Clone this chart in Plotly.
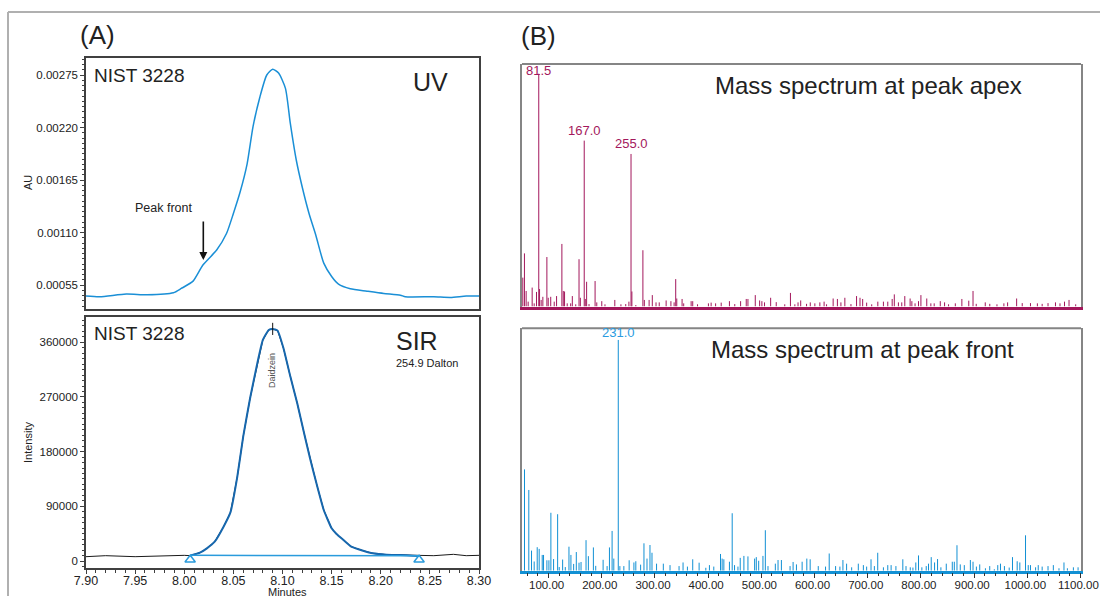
import plotly.graph_objects as go

# ---------------- data ----------------
uv_time = [7.900, 7.914, 7.941, 7.962, 7.989, 7.997, 8.009, 8.019, 8.033, 8.043, 8.050, 8.057,
           8.064, 8.070, 8.077, 8.084, 8.090, 8.096, 8.103, 8.108, 8.114, 8.120, 8.127, 8.134,
           8.142, 8.150, 8.157, 8.169, 8.186, 8.203, 8.220, 8.225, 8.254, 8.271, 8.287, 8.300]
uv_au = [0.000435, 0.000428, 0.000456, 0.000449, 0.000470, 0.000515, 0.000592, 0.000760, 0.000917,
         0.00109, 0.00130, 0.00153, 0.00182, 0.00221, 0.00252, 0.00275, 0.00281, 0.00277, 0.00261,
         0.00224, 0.00186, 0.00158, 0.00130, 0.00107, 0.00078, 0.00064, 0.00056, 0.000512, 0.000487,
         0.000463, 0.000445, 0.000428, 0.000428, 0.000421, 0.000435, 0.000435]

sir_time = [7.900, 7.920, 7.950, 7.970, 8.000, 8.006, 8.016, 8.023, 8.031, 8.040, 8.047, 8.054,
            8.060, 8.067, 8.074, 8.080, 8.086, 8.090, 8.095, 8.101, 8.108, 8.115, 8.122, 8.128,
            8.135, 8.142, 8.150, 8.155, 8.162, 8.170, 8.182, 8.192, 8.206, 8.220, 8.233, 8.239,
            8.254, 8.274, 8.287, 8.300]
sir_intensity = [7130, 8780, 7130, 8230, 9330, 8780, 13720, 20850, 31830, 56500, 80000, 138800,
                 204700, 267800, 322700, 363800, 380300, 381950, 379200, 350100, 303500, 259600,
                 210200, 169000, 125100, 84000, 53800, 44450, 34570, 23600, 17010, 12620, 10430,
                 9880, 8780, 8230, 8780, 10980, 8780, 9330]

peak_start, peak_end = 8.006, 8.239
baseline_level = [9300, 8800]
marker_level = 2000
apex_time = 8.09
apex_tick = [372000, 392000]

apex_mz = [51.5, 54.6, 57.8, 61.6, 69.1, 72.9, 77.3, 81.5, 83.0, 86.0, 89.2, 96.8, 99.3, 104.0,
           110.6, 115.0, 125.0, 127.6, 130.0, 135.0, 141.5, 144.6, 151.0, 157.2, 159.7, 167.0,
           169.0, 171.5, 176.0, 187.4, 190.6, 200.0, 206.0, 224.5, 236.0, 245.0, 251.0, 255.0,
           256.6, 264.0, 277.3, 280.0, 289.0, 295.0, 302.0, 308.0, 321.0, 330.0, 336.0, 339.0,
           341.0, 351.0, 354.0, 368.0, 371.0, 380.0, 400.5, 405.6, 414.0, 424.5, 440.0, 450.0,
           461.0, 471.6, 474.8, 488.6, 496.8, 501.0, 506.0, 517.5, 528.0, 544.0, 554.7, 563.0,
           569.0, 574.0, 585.0, 592.0, 600.6, 610.0, 618.0, 622.6, 635.0, 643.0, 649.6, 657.0,
           668.5, 679.0, 685.5, 690.5, 698.0, 707.5, 719.0, 729.5, 737.7, 746.0, 750.0, 757.7,
           764.0, 769.7, 779.7, 783.0, 789.0, 795.5, 800.0, 811.0, 818.7, 825.0, 836.4, 844.5,
           852.0, 864.7, 877.0, 890.0, 898.0, 904.0, 921.0, 929.5, 943.0, 956.0, 963.0, 980.0,
           990.5, 1006.0, 1019.0, 1028.0, 1039.0, 1053.0, 1061.5, 1070.0, 1078.5, 1091.0]
apex_int = [11.9, 21.9, 6.4, 2.0, 7.8, 1.3, 6.0, 96.0, 7.2, 2.7, 4.0, 20.4, 3.6, 4.0,
            2.0, 4.3, 25.8, 6.4, 6.2, 1.3, 1.3, 4.3, 0.9, 19.5, 3.6, 68.4,
            3.1, 10.2, 1.0, 10.5, 1.7, 2.2, 0.9, 2.7, 0.9, 1.0, 2.0, 62.9,
            6.2, 0.6, 23.2, 2.7, 2.7, 4.7, 1.7, 1.7, 2.5, 2.2, 1.7, 11.3,
            3.3, 3.1, 1.3, 2.2, 2.2, 0.9, 1.3, 1.6, 1.3, 1.6, 2.2, 1.0,
            2.2, 3.1, 3.1, 4.7, 2.5, 2.2, 1.7, 3.6, 1.8, 0.9, 5.6, 0.9,
            1.7, 2.5, 1.1, 1.7, 1.3, 1.7, 2.0, 0.9, 3.3, 3.1, 1.7, 3.6,
            1.0, 4.3, 3.6, 3.1, 1.6, 0.9, 2.0, 2.0, 2.0, 3.1, 5.0, 1.7,
            1.7, 4.3, 3.3, 2.2, 1.3, 2.2, 4.7, 3.3, 1.3, 1.3, 2.2, 1.7,
            0.9, 1.3, 3.1, 2.4, 6.4, 1.1, 1.7, 1.1, 0.9, 1.3, 1.7, 3.3,
            1.4, 1.4, 1.3, 1.1, 1.4, 1.7, 1.3, 2.0, 2.7, 0.9]
apex_labels = [81.5, 167.0, 255.0]

front_mz = [54.7, 62.8, 67.9, 72.9, 78.6, 82.3, 88.0, 90.5, 96.8, 100.6, 104.3, 109.4, 117.0,
            120.0, 126.4, 131.4, 138.3, 142.0, 147.1, 152.1, 157.2, 161.0, 170.4, 174.8, 184.2,
            188.6, 202.5, 210.0, 214.4, 219.4, 222.6, 231.0, 234.0, 241.5, 251.5, 260.4, 264.0,
            273.0, 279.3, 285.0, 290.6, 294.4, 303.0, 315.7, 328.3, 345.3, 352.8, 361.0, 371.0,
            383.0, 395.6, 402.4, 410.6, 423.2, 426.3, 429.5, 440.0, 445.2, 449.6, 456.0, 460.3,
            467.2, 474.8, 487.4, 490.5, 495.0, 503.0, 507.5, 512.5, 526.3, 531.4, 537.7, 554.0,
            559.7, 566.0, 576.7, 585.5, 591.8, 607.0, 620.7, 627.6, 639.6, 647.7, 653.4, 660.3,
            669.8, 682.3, 691.8, 698.0, 706.2, 712.5, 718.8, 729.5, 737.7, 744.0, 753.0, 766.0,
            772.0, 780.0, 785.0, 790.4, 795.5, 801.8, 810.0, 814.3, 819.4, 825.7, 831.3, 837.6,
            847.7, 859.0, 862.8, 867.8, 874.0, 881.6, 893.0, 898.0, 904.3, 910.6, 921.3, 929.4,
            938.0, 944.5, 949.6, 957.0, 966.0, 972.2, 981.0, 986.0, 996.7, 1001.8, 1006.0, 1015.6,
            1020.6, 1028.0, 1039.0, 1049.0, 1059.6, 1069.0, 1075.4, 1086.7, 1095.5]
front_int = [41.8, 33.3, 8.3, 3.8, 9.7, 9.0, 6.5, 6.5, 4.3, 4.3, 23.9, 4.8, 23.3,
             1.5, 4.6, 1.5, 9.9, 6.5, 2.8, 7.7, 3.3, 3.6, 12.6, 6.0, 9.6,
             2.0, 4.5, 1.9, 9.6, 16.4, 5.0, 95.2, 1.9, 1.9, 4.3, 3.4, 3.9,
             2.5, 11.3, 5.0, 10.6, 7.4, 2.9, 2.9, 2.3, 1.9, 3.4, 1.7, 4.7,
             3.3, 1.2, 2.3, 1.7, 6.9, 5.0, 4.7, 3.7, 23.7, 2.3, 1.7, 5.3,
             6.1, 5.9, 5.0, 5.6, 4.1, 6.1, 16.7, 1.9, 2.9, 4.4, 4.4, 1.9,
             3.6, 2.6, 3.7, 5.0, 4.7, 1.9, 1.7, 7.1, 1.9, 1.7, 4.4, 2.9,
             1.4, 2.9, 2.3, 1.7, 4.7, 1.9, 7.4, 1.4, 2.3, 2.3, 1.9, 4.7,
             1.9, 1.4, 1.3, 3.4, 6.3, 1.4, 1.9, 2.9, 5.6, 3.4, 4.8, 1.4,
             2.9, 3.7, 3.7, 10.5, 2.6, 2.3, 4.4, 3.7, 1.7, 2.6, 1.0, 1.9,
             0.6, 2.3, 2.9, 1.9, 1.3, 5.6, 3.9, 3.4, 14.6, 2.3, 2.3, 1.4,
             2.3, 1.7, 1.9, 2.3, 1.0, 3.4, 1.0, 1.4, 1.4]
front_labels = [231.0]

uv_ticks = [0.00055, 0.00110, 0.00165, 0.00220, 0.00275]
sir_ticks = [0, 90000, 180000, 270000, 360000]
mz_ticks = [100, 200, 300, 400, 500, 600, 700, 800, 900, 1000, 1100]

# ---------------- styling ----------------
FONT = "Liberation Sans, Arial, sans-serif"
TXT = "#222222"
UV_COL = "#1a8fd6"
SIR_COL = "#1767ad"
BASE_COL = "#2a9bdc"
APEX_COL = "#a3175c"
FRONT_COL = "#1190d4"
FRAME_L = "#404040"
FRAME_R = "#858585"

W, H = 1100, 596
def px(x):
    return x / W
def py(y):
    return 1 - y / H

def sticks(mz, inten):
    xs, ys = [], []
    for m, v in zip(mz, inten):
        xs += [m, m, None]
        ys += [0, v, None]
    return xs, ys

fig = go.Figure()

fig.add_trace(go.Scatter(x=uv_time, y=uv_au, mode="lines", xaxis="x", yaxis="y",
                         line=dict(color=UV_COL, width=1.5, shape="spline", smoothing=0.6),
                         hoverinfo="skip"))

fig.add_trace(go.Scatter(x=sir_time, y=sir_intensity, mode="lines", xaxis="x2", yaxis="y2",
                         line=dict(color="#1a1a1a", width=1), hoverinfo="skip"))
pk_t = [t for t in sir_time if peak_start <= t <= peak_end]
pk_v = [v for t, v in zip(sir_time, sir_intensity) if peak_start <= t <= peak_end]
fig.add_trace(go.Scatter(x=pk_t, y=pk_v, mode="lines", xaxis="x2", yaxis="y2",
                         line=dict(color=SIR_COL, width=2, shape="spline", smoothing=0.4),
                         hoverinfo="skip"))
fig.add_trace(go.Scatter(x=[peak_start, peak_end], y=baseline_level, mode="lines",
                         xaxis="x2", yaxis="y2", line=dict(color=BASE_COL, width=1.5),
                         hoverinfo="skip"))
fig.add_trace(go.Scatter(x=[peak_start, peak_end], y=[marker_level, marker_level], mode="markers",
                         xaxis="x2", yaxis="y2",
                         marker=dict(symbol="triangle-up-open", size=9, color=BASE_COL,
                                     line=dict(width=1.5, color=BASE_COL)),
                         hoverinfo="skip"))
fig.add_trace(go.Scatter(x=[apex_time, apex_time], y=apex_tick, mode="lines",
                         xaxis="x2", yaxis="y2", line=dict(color="#111111", width=1),
                         hoverinfo="skip"))

ax_, ay_ = sticks(apex_mz, apex_int)
fig.add_trace(go.Scatter(x=ax_, y=ay_, mode="lines", xaxis="x3", yaxis="y3",
                         line=dict(color=APEX_COL, width=1), hoverinfo="skip"))
fx_, fy_ = sticks(front_mz, front_int)
fig.add_trace(go.Scatter(x=fx_, y=fy_, mode="lines", xaxis="x4", yaxis="y4",
                         line=dict(color=FRONT_COL, width=1), hoverinfo="skip"))

xl = [px(86), px(479)]
xr = [px(522), px(1081)]
d_uv = [py(309), py(58)]
d_sir = [py(568), py(317)]
d_ap = [py(306.5), py(64)]
d_fr = [py(570.7), py(328.3)]

tickfont = dict(family=FONT, size=11.5, color=TXT)

fig.update_layout(
    width=W, height=H, autosize=False, margin=dict(l=0, r=0, t=0, b=0, pad=0),
    paper_bgcolor="white", plot_bgcolor="white", showlegend=False,
    font=dict(family=FONT, color=TXT),
    xaxis=dict(domain=xl, anchor="y", range=[7.9, 8.3], showticklabels=False, ticks="",
               showline=True, mirror=True, linecolor=FRAME_L, linewidth=1.5,
               showgrid=False, zeroline=False, automargin=False),
    yaxis=dict(domain=d_uv, anchor="x", range=[0.0003, 0.002928], tickvals=uv_ticks,
               tickformat=".5f", ticks="outside", ticklen=4, tickcolor=FRAME_L,
               minor=dict(ticks="outside", ticklen=2, dtick=0.000055, tick0=0.00055,
                          tickcolor=FRAME_L),
               showline=True, mirror=True, linecolor=FRAME_L, linewidth=1.5,
               showgrid=False, zeroline=False, tickfont=tickfont, automargin=False),
    xaxis2=dict(domain=xl, anchor="y2", range=[7.9, 8.3], tick0=7.9, dtick=0.05,
                tickformat=".2f", ticks="outside", ticklen=4, tickcolor=FRAME_L,
                minor=dict(ticks="outside", ticklen=3, dtick=0.01, tickcolor=FRAME_L),
                showline=True, mirror=True, linecolor=FRAME_L, linewidth=1.5,
                showgrid=False, zeroline=False, automargin=False, ticklabelstandoff=-4,
                ticklabeloverflow="allow",
                tickfont=dict(family=FONT, size=12.5, color=TXT)),
    yaxis2=dict(domain=d_sir, anchor="x2", range=[-11500, 401600], tickvals=sir_ticks,
                tickformat="d", ticks="outside", ticklen=4, tickcolor=FRAME_L,
                minor=dict(ticks="outside", ticklen=2, dtick=9000, tick0=0, tickcolor=FRAME_L),
                showline=True, mirror=True, linecolor=FRAME_L, linewidth=1.5,
                showgrid=False, zeroline=False, tickfont=tickfont, automargin=False),
    xaxis3=dict(domain=xr, anchor="y3", range=[50, 1101], showticklabels=False, ticks="",
                showline=True, mirror=False, linecolor=APEX_COL, linewidth=2.5,
                showgrid=False, zeroline=False, automargin=False),
    yaxis3=dict(domain=d_ap, anchor="x3", range=[0, 100], showticklabels=False, ticks="",
                showline=True, mirror=True, linecolor=FRAME_R, linewidth=2,
                showgrid=False, zeroline=False, automargin=False),
    xaxis4=dict(domain=xr, anchor="y4", range=[50, 1101], tickvals=mz_ticks, tickformat=".2f",
                ticks="outside", ticklen=5, tickcolor="#333333",
                minor=dict(ticks="outside", ticklen=3, dtick=20, tick0=0, tickcolor="#333333"),
                showline=True, mirror=False, linecolor=FRONT_COL, linewidth=2.5,
                showgrid=False, zeroline=False, tickfont=tickfont, automargin=False,
                ticklabelstandoff=-3, ticklabelshift=-2, ticklabeloverflow="allow"),
    yaxis4=dict(domain=d_fr, anchor="x4", range=[0, 100], showticklabels=False, ticks="",
                showline=True, mirror=True, linecolor=FRAME_R, linewidth=2,
                showgrid=False, zeroline=False, automargin=False),
)

shapes = [
    dict(type="line", xref="paper", yref="paper", x0=px(8), x1=1.02, y0=py(12), y1=py(12),
         line=dict(color="#b0b0b0", width=2)),
    dict(type="line", xref="paper", yref="paper", x0=px(8), x1=px(8), y0=py(12), y1=-0.05,
         line=dict(color="#b0b0b0", width=2)),
    dict(type="line", xref="paper", yref="paper", x0=xr[0], x1=xr[1], y0=d_ap[1], y1=d_ap[1],
         line=dict(color=FRAME_R, width=2)),
    dict(type="line", xref="paper", yref="paper", x0=xr[0], x1=xr[1], y0=d_fr[1], y1=d_fr[1],
         line=dict(color=FRAME_R, width=2)),
]
fig.update_layout(shapes=shapes)

def ptext(text, x, y, size, xanchor="center", yanchor="middle", color=TXT, angle=0):
    return dict(text=text, x=px(x), y=py(y), xref="paper", yref="paper", showarrow=False,
                xanchor=xanchor, yanchor=yanchor, textangle=angle,
                font=dict(family=FONT, size=size, color=color))

ann = [
    ptext("(A)", 97, 35, 26),
    ptext("(B)", 538, 36, 26),
    ptext("NIST 3228", 92, 75, 19, xanchor="left"),
    ptext("UV", 430, 82, 25),
    ptext("Peak front", 164, 208, 12.5),
    ptext("NIST 3228", 92, 333, 19, xanchor="left"),
    ptext("SIR", 417, 341, 25),
    ptext("254.9 Dalton", 394, 363, 11, xanchor="left"),
    ptext("AU", 28, 183, 11, angle=-90),
    ptext("Intensity", 28, 443, 11, angle=-90),
    ptext("Minutes", 287, 592, 11),
    ptext("Mass spectrum at peak apex", 868, 86, 24),
    ptext("Mass spectrum at peak front", 862, 349, 24),
    dict(text="Daidzein", x=apex_time, y=314000, xref="x2", yref="y2", showarrow=False,
         textangle=-90, font=dict(family=FONT, size=9, color="#555555")),
    dict(text="", x=8.0194, y=0.000812, xref="x", yref="y", showarrow=True, ax=0, ay=-40,
         arrowhead=2, arrowsize=1, arrowwidth=1.6, arrowcolor="#111111"),
]
for m in apex_labels:
    v = apex_int[apex_mz.index(m)]
    ann.append(dict(text=f"{m:.1f}", x=m, y=v, xref="x3", yref="y3", showarrow=False,
                    yanchor="middle" if v > 90 else "bottom", yshift=3 if v > 90 else 1,
                    font=dict(family=FONT, size=13, color=APEX_COL)))
for m in front_labels:
    v = front_int[front_mz.index(m)]
    ann.append(dict(text=f"{m:.1f}", x=m, y=v, xref="x4", yref="y4", showarrow=False,
                    yanchor="bottom", yshift=-2,
                    font=dict(family=FONT, size=13, color="#2a9be0")))
fig.update_layout(annotations=ann)

fig.write_html("out.html", config={"responsive": False, "displayModeBar": False},
               post_script="document.body.style.margin='0';document.body.style.overflow='hidden';")
